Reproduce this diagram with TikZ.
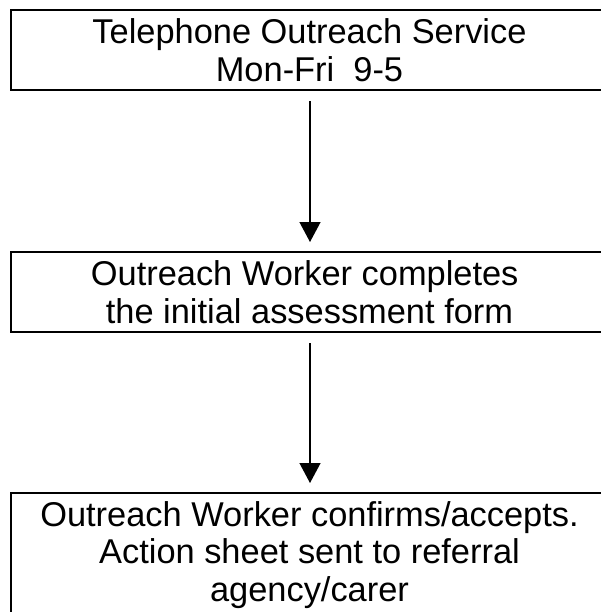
\documentclass[tikz,border=0pt]{standalone}
\usepackage{fontspec}
\setmainfont{Liberation Sans}
\usetikzlibrary{arrows.meta}
\begin{document}
\begin{tikzpicture}[x=1pt,y=-1pt,
  stage/.style={draw=black, line width=2pt, rectangle, align=center,
    minimum width=598pt, inner sep=0pt,
    font=\fontsize{34.4}{37.5}\selectfont},
  flow/.style={line width=1.3pt, -{Triangle[length=20pt,width=21pt]},
    shorten <=10pt, shorten >=9pt}]
\useasboundingbox (0,0) rectangle (600,612);
% the three stages of the referral process
\node[stage, minimum height=80.5pt] (phone) at (309.5,50.25)
  {Telephone Outreach Service\\Mon-Fri\ \ 9-5};
\node[stage, minimum height=80pt] (assess) at (309.5,292)
  {Outreach Worker completes\rule{0.28em}{0pt}\\the initial assessment form};
\node[stage, minimum height=124pt] (confirm) at (309.5,555)
  {Outreach Worker confirms/accepts.\\Action sheet sent to referral\\agency/carer};
% connectors between the stages
\draw[flow] (phone.south) ++(0.5,0) coordinate (p1) -- (p1 |- assess.north);
\draw[flow] (assess.south) ++(0.5,0) coordinate (p2) -- (p2 |- confirm.north);
\end{tikzpicture}
\end{document}
